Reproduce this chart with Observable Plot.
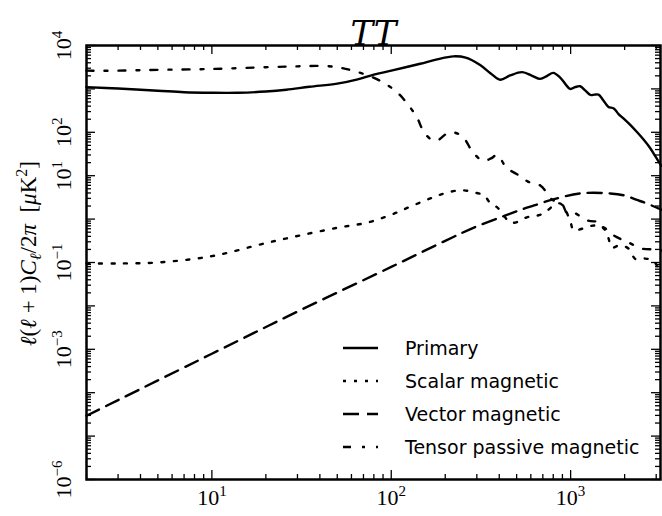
<!DOCTYPE html>
<html><head><meta charset="utf-8">
<script src="https://cdn.jsdelivr.net/npm/d3@7"></script>
<script src="https://cdn.jsdelivr.net/npm/@observablehq/plot@0.6"></script>
<style>
body{margin:0;background:#fff;}
#wrap{position:relative;width:662px;height:516px;}
#legend{position:absolute;left:0;top:0;}
</style></head><body><div id="wrap"></div>
<script>
// ---- data ----
const primaryL = [2,3,5,7,10,14,20,26,35,50,65,80,100,145,180,222,260,313,360,405,460,537,610,676,740,800,880,993,1060,1130,1210,1290,1360,1430,1520,1620,1740,1850,1970,2150,2350,2550,2780,3000,3200];
const primaryV = [1100,1020,910,840,815,815,870,955,1120,1320,1660,2140,2630,3800,4790,5620,5250,3550,2240,1620,2040,2430,2000,1700,2000,2340,1780,1000,1100,1150,910,725,740,740,550,390,355,263,209,148,100,68,43,26,17];

const scalarL = [2,3,5,10,20,31,50,73.5,100,130,171,210,252,300,330,355,390,430,460,510,570,650,720,800,870,920,1000,1040,1160,1350,1570,1630,1700,1880,2100,2300,2600,2880,3100];
const scalarV = [0.095,0.095,0.1,0.14,0.28,0.42,0.63,0.83,1.26,2.0,3.16,4.2,4.6,4.0,3.5,2.4,1.86,1.12,0.83,0.87,1.1,1.2,1.41,2.04,2.3,1.86,0.83,0.55,0.6,0.71,0.6,0.35,0.22,0.25,0.21,0.12,0.123,0.11,0.072];

const vectorL = [2,10,31,100,200,300,430,550,620,790,1130,1660,2000,2320,2650,3200];
const vectorV = [2.95e-5,7.9e-4,7.9e-3,0.079,0.316,0.68,1.2,1.74,2.04,2.8,3.9,3.9,3.5,2.8,2.3,1.66];

const tensorL = [2,3,5,10,20,30,40,50,61,75,90,108,125,140,150,165,180,210,235,255,285,325,360,390,440,500,575,680,790,890,960,1040,1240,1470,1530,1820,2100,2480,2950,3200];
const tensorV = [2630,2630,2750,2880,3160,3310,3390,3160,2630,2000,1410,830,417,209,112,71,65,100,93,72,35,22,25,30,15,11,7.4,5.9,2.8,2.3,1.35,1.4,0.93,0.83,0.6,0.38,0.29,0.21,0.2,0.19];

const seriesNames = ["Primary","Scalar magnetic","Vector magnetic","Tensor passive magnetic"];
const xMajorTicks = [10,100,1000];
const yLabelTicks = [1e4,1e2,1e1,1e-1,1e-3,1e-6];
const titleText = "TT";

// ---- styles ----
const dashes = {"Primary":null,"Scalar magnetic":"3,9.5","Vector magnetic":"14,8","Tensor passive magnetic":"7,11,3,11"};
const legendDashes = {"Primary":null,"Scalar magnetic":"3,8","Vector magnetic":"16,8","Tensor passive magnetic":"8,11,3,11"};

const W=662,H=516,mL=86,mR=2,mT=45,mB=37;
const fw=W-mL-mR, fh=H-mT-mB;
const xDomain=[2,3170], yDomain=[1e-6,1e4];

const xMinor=[], yMajor=[], yMinor=[];
for (let e=0;e<=3;e++) for (let m=2;m<=9;m++){const v=m*10**e; if(v>=xDomain[0]&&v<=xDomain[1]) xMinor.push(v);}
for (let e=-6;e<=4;e++){yMajor.push(10**e); if(e<4) for(let m=2;m<=9;m++) yMinor.push(m*10**e);}

const expOf = d => String(Math.round(Math.log10(d))).replace("-","\u2212");
const fmt = d => "10^" + expOf(d);

const rows = (L,V,name)=>L.map((l,i)=>({ell:l,v:V[i],series:name}));
const series = [
  rows(primaryL,primaryV,seriesNames[0]),
  rows(scalarL,scalarV,seriesNames[1]),
  rows(vectorL,vectorV,seriesNames[2]),
  rows(tensorL,tensorV,seriesNames[3])
];

const tick = {stroke:"#000", strokeWidth:1.3};
const chart = Plot.plot({
  width:W, height:H, marginLeft:mL, marginRight:mR, marginTop:mT, marginBottom:mB,
  style:{fontFamily:"'Liberation Serif','DejaVu Serif',serif", fontSize:"22px", background:"#fff", color:"#000", overflow:"visible"},
  x:{type:"log", domain:xDomain},
  y:{type:"log", domain:yDomain},
  marks:[
    Plot.ruleX(xMajorTicks,{...tick, insetTop:fh-9}),
    Plot.ruleX(xMajorTicks,{...tick, insetBottom:fh-9}),
    Plot.ruleX(xMinor,{...tick, insetTop:fh-5}),
    Plot.ruleX(xMinor,{...tick, insetBottom:fh-5}),
    Plot.ruleY(yMajor,{...tick, insetRight:fw-9}),
    Plot.ruleY(yMajor,{...tick, insetLeft:fw-9}),
    Plot.ruleY(yMinor,{...tick, insetRight:fw-5}),
    Plot.ruleY(yMinor,{...tick, insetLeft:fw-5}),
    ...series.map(s=>Plot.line(s,{x:"ell",y:"v",stroke:"#000",strokeWidth:2.4,
      strokeDasharray:dashes[s[0].series]||undefined, curve:"catmull-rom"})),
    Plot.frame({stroke:"#000", strokeWidth:2.5}),
    Plot.axisX({ticks:xMajorTicks, tickFormat:fmt, tickSize:0, tickPadding:10, label:null}),
    Plot.axisY({ticks:yLabelTicks, tickFormat:fmt, tickSize:0, tickRotate:-90, tickPadding:16, label:null}),
    Plot.text([titleText],{frameAnchor:"top", lineAnchor:"bottom", dy:-1, fontSize:34, fontStyle:"italic", fontFamily:"'DejaVu Serif',serif"}),
    Plot.text(["YLABEL"],{frameAnchor:"left", textAnchor:"middle", rotate:-90, dx:-58, dy:-9, fontSize:23})
  ]
});
document.getElementById("wrap").appendChild(chart);

// tick labels: 10 with a real superscript exponent
d3.select(chart).selectAll("text").filter(function(){return /^10\^/.test(this.textContent);})
  .each(function(){
    const e = this.textContent.slice(3);
    d3.select(this).html('<tspan font-size="22">10</tspan><tspan font-size="15" dy="-9">'+e+'</tspan>');
  });

// math-style y label
d3.select(chart).selectAll("text").filter(function(){return this.textContent==="YLABEL";})
  .html('<tspan font-style="italic">ℓ</tspan>(<tspan font-style="italic">ℓ</tspan> + 1)<tspan font-style="italic">C</tspan><tspan font-style="italic" font-size="16" dy="5">ℓ</tspan><tspan dy="-5">/2</tspan><tspan font-style="italic">π</tspan>\u00a0\u00a0[<tspan font-style="italic">μ</tspan>K<tspan font-size="16" dy="-9">2</tspan><tspan dy="9">]</tspan>');

// legend overlay
const lg = d3.select("#wrap").append("svg").attr("id","legend").attr("width",W).attr("height",H);
seriesNames.forEach((n,i)=>{
  const y = 348 + i*33;
  lg.append("line").attr("x1",343).attr("x2",378).attr("y1",y).attr("y2",y)
    .attr("stroke","#000").attr("stroke-width",2.4).attr("stroke-dasharray",legendDashes[n]);
  lg.append("text").attr("x",405).attr("y",y).attr("dy","0.35em")
    .attr("font-family","'DejaVu Sans',sans-serif").attr("font-size",19).text(n);
});
</script></body></html>
